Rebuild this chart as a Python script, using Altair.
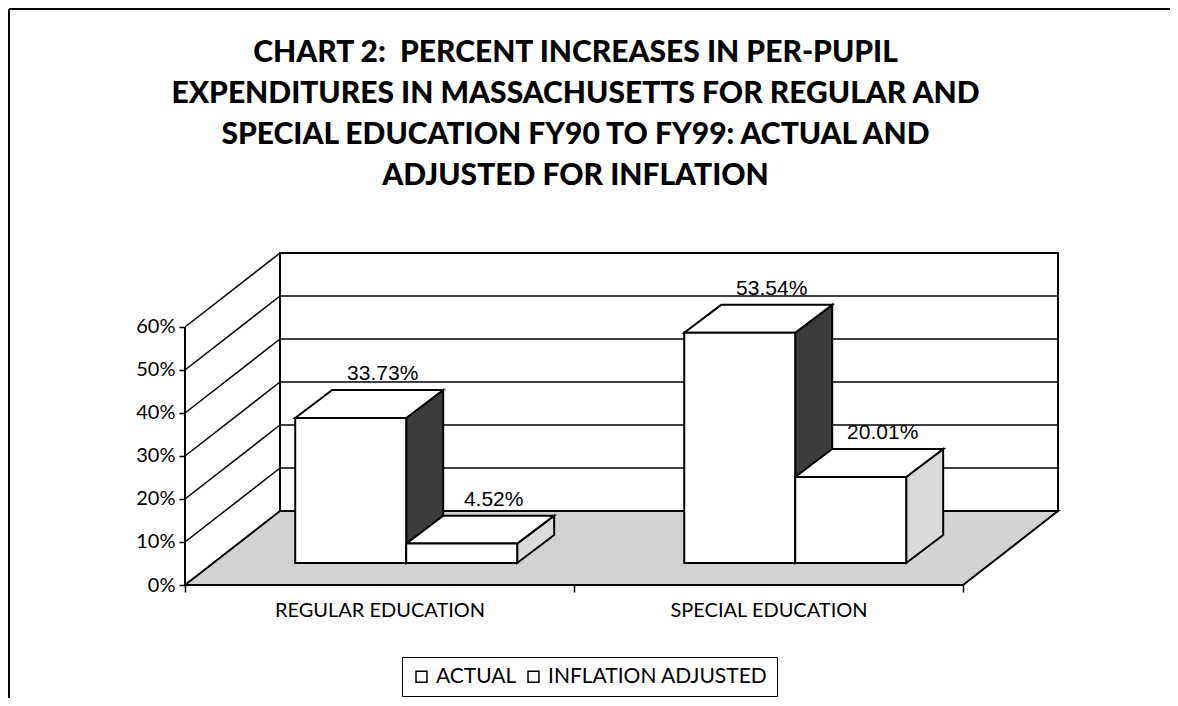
import altair as alt
import pandas as pd

# ---------------- data ----------------
categories = ["REGULAR EDUCATION", "SPECIAL EDUCATION"]
series_names = ["ACTUAL", "INFLATION ADJUSTED"]
actual = [33.73, 53.54]
inflation_adjusted = [4.52, 20.01]
y_ticks = [0, 10, 20, 30, 40, 50, 60]
title_lines = [
    "CHART 2:\u00a0 PERCENT INCREASES IN PER-PUPIL",
    "EXPENDITURES IN MASSACHUSETTS FOR REGULAR AND",
    "SPECIAL EDUCATION FY90 TO FY99: ACTUAL AND",
    "ADJUSTED FOR INFLATION",
]

# ---------------- 3-D layout constants (data units) ----------------
Y_MAX = 60
DEPTH_X = 0.2442   # floor depth in category units
DEPTH_Y = 17.2     # floor depth in percent units
BAR_T0 = 0.297     # depth fraction of the bars' front faces
BAR_DX = 0.0951    # bar depth (x)
BAR_DY = 6.5       # bar depth (y)
BAR_LEFT = 0.2108  # gap from category start to first bar
BAR_W = 0.2853     # bar width
N = len(categories)
X_MAX = N + DEPTH_X
SIDE_COLORS = ["#3c3c3c", "#dadada"]
FLOOR_COLOR = "#d2d2d2"

values = [actual, inflation_adjusted]
front_rows, side_rows, top_rows, label_rows = [], [], [], []
for g, cat in enumerate(categories):
    for s, name in enumerate(series_names):
        v = values[s][g]
        x0 = g + BAR_T0 * DEPTH_X + BAR_LEFT + s * BAR_W
        x1 = x0 + BAR_W
        yb = BAR_T0 * DEPTH_Y
        yt = yb + v
        fid = f"{g}-{s}"
        front_rows.append(dict(category=cat, series=name, value=v, x0=x0, x1=x1, yb=yb, yt=yt))
        side_rows += [
            dict(face=fid, x=x1, y=yb, y2=yt, fill=SIDE_COLORS[s]),
            dict(face=fid, x=x1 + BAR_DX, y=yb + BAR_DY, y2=yt + BAR_DY, fill=SIDE_COLORS[s]),
        ]
        top_rows += [
            dict(face=fid, x=x0, y=yt, y2=yt),
            dict(face=fid, x=x0 + BAR_DX, y=yt, y2=yt + BAR_DY),
            dict(face=fid, x=x1, y=yt, y2=yt + BAR_DY),
            dict(face=fid, x=x1 + BAR_DX, y=yt + BAR_DY, y2=yt + BAR_DY),
        ]
        label_rows.append(dict(x=(x0 + x1) / 2 + BAR_DX, y=yt + BAR_DY, label=f"{v:.2f}%"))

fronts = pd.DataFrame(front_rows)
sides = pd.DataFrame(side_rows)
tops = pd.DataFrame(top_rows)
labels = pd.DataFrame(label_rows)

floor = pd.DataFrame({
    "x": [0, DEPTH_X, N, N + DEPTH_X],
    "y": [0, 0, 0, DEPTH_Y],
    "y2": [0, DEPTH_Y, DEPTH_Y, DEPTH_Y],
})
wall = pd.DataFrame({"x": [DEPTH_X], "x2": [N + DEPTH_X], "y": [DEPTH_Y], "y2": [Y_MAX + DEPTH_Y]})
grid = pd.DataFrame({"x": DEPTH_X, "x2": N + DEPTH_X, "y": [t + DEPTH_Y for t in y_ticks[1:-1]]})
left_wall = pd.DataFrame({"x": 0.0, "x2": DEPTH_X, "y": y_ticks[1:], "y2": [t + DEPTH_Y for t in y_ticks[1:]]})
front_edge = pd.DataFrame({"x": [0.0], "y": [0.0], "y2": [float(Y_MAX)]})

xs = alt.Scale(domain=[0, X_MAX], nice=False, zero=False)
ys = alt.Scale(domain=[0, Y_MAX + DEPTH_Y], nice=False, zero=False)

label_expr = " : ".join(
    f"datum.value == {i + 0.5} ? '{c}'" for i, c in enumerate(categories)
) + " : ''"
x_axis = alt.Axis(
    values=[0, 0.5, 1, 1.5, 2], labelExpr=label_expr, domain=False, grid=False,
    tickSize=7, tickWidth=1.5, tickColor="black",
    tickOpacity={"condition": {"test": "datum.value % 1 !== 0", "value": 0}, "value": 1},
    labelFont="Lato", labelFontSize=20, labelColor="black", labelPadding=8, title=None,
    labelLimit=0,
)
y_axis = alt.Axis(
    values=y_ticks, labelExpr="datum.value + '%'", domain=False, grid=False,
    tickSize=6, tickWidth=1.5, tickColor="black",
    labelFont="Lato", labelFontSize=20, labelColor="black", labelPadding=4, title=None,
)

wall_layer = alt.Chart(wall).mark_rect(fill="white", stroke="black", strokeWidth=2).encode(
    x=alt.X("x:Q", scale=xs, axis=x_axis), x2="x2:Q",
    y=alt.Y("y:Q", scale=ys, axis=y_axis), y2="y2:Q",
)
grid_layer = alt.Chart(grid).mark_rule(color="black", strokeWidth=1.5).encode(
    x=alt.X("x:Q", scale=xs), x2="x2:Q", y=alt.Y("y:Q", scale=ys)
)
floor_layer = alt.Chart(floor).mark_area(fill=FLOOR_COLOR, stroke="black", strokeWidth=2).encode(
    x=alt.X("x:Q", scale=xs), y=alt.Y("y:Q", scale=ys, stack=None), y2="y2:Q"
)
left_layer = alt.Chart(left_wall).mark_rule(color="black", strokeWidth=1.5).encode(
    x=alt.X("x:Q", scale=xs), x2="x2:Q", y=alt.Y("y:Q", scale=ys), y2="y2:Q"
)
edge_layer = alt.Chart(front_edge).mark_rule(color="black", strokeWidth=2).encode(
    x=alt.X("x:Q", scale=xs), y=alt.Y("y:Q", scale=ys), y2="y2:Q"
)
side_layer = alt.Chart(sides).mark_area(stroke="black", strokeWidth=2).encode(
    x=alt.X("x:Q", scale=xs), y=alt.Y("y:Q", scale=ys, stack=None), y2="y2:Q",
    fill=alt.Fill("fill:N", scale=None), detail="face:N",
)
top_layer = alt.Chart(tops).mark_area(fill="white", stroke="black", strokeWidth=2).encode(
    x=alt.X("x:Q", scale=xs), y=alt.Y("y:Q", scale=ys, stack=None), y2="y2:Q",
    detail="face:N",
)
front_layer = alt.Chart(fronts).mark_rect(stroke="black", strokeWidth=2).encode(
    x=alt.X("x0:Q", scale=xs), x2="x1:Q",
    y=alt.Y("yb:Q", scale=ys), y2="yt:Q",
    fill=alt.Fill(
        "series:N",
        scale=alt.Scale(domain=series_names, range=["white", "white"]),
        legend=alt.Legend(
            orient="none", legendX=217, legendY=404, direction="horizontal", title=None,
            strokeColor="black", padding=9, symbolType="square", symbolSize=120,
            symbolStrokeColor="black", symbolStrokeWidth=1.5,
            labelFont="Lato", labelFontSize=21, labelColor="black", labelLimit=0,
            columnPadding=6, labelOffset=4,
        ),
    ),
)
text_layer = alt.Chart(labels).mark_text(
    font="Liberation Sans", fontSize=21, baseline="bottom", dy=-6, dx=-5, color="black"
).encode(x=alt.X("x:Q", scale=xs), y=alt.Y("y:Q", scale=ys), text="label:N")

one = pd.DataFrame({"k": [0]})
frame_top = alt.Chart(one).mark_rule(color="black", strokeWidth=2).encode(
    x=alt.value(-176), x2=alt.value(985), y=alt.value(-244)
)
frame_left = alt.Chart(one).mark_rule(color="black", strokeWidth=2).encode(
    x=alt.value(-176), y=alt.value(-244), y2=alt.value(445)
)

chart = alt.layer(
    wall_layer, grid_layer, floor_layer, left_layer, edge_layer,
    side_layer, top_layer, front_layer, text_layer, frame_top, frame_left,
).properties(
    width=873, height=332,
    autosize=alt.AutoSizeParams(type="none"),
    padding={"left": 177, "top": 245, "right": 112, "bottom": 113},
    title=alt.TitleParams(
        title_lines, font="Lato", fontSize=30, fontWeight=900, color="black",
        lineHeight=41, anchor="middle", frame="group", dx=-46, offset=-183,
    ),
).configure_view(stroke=None)

chart.save("out.html", embed_options={"renderer": "svg", "actions": False})
